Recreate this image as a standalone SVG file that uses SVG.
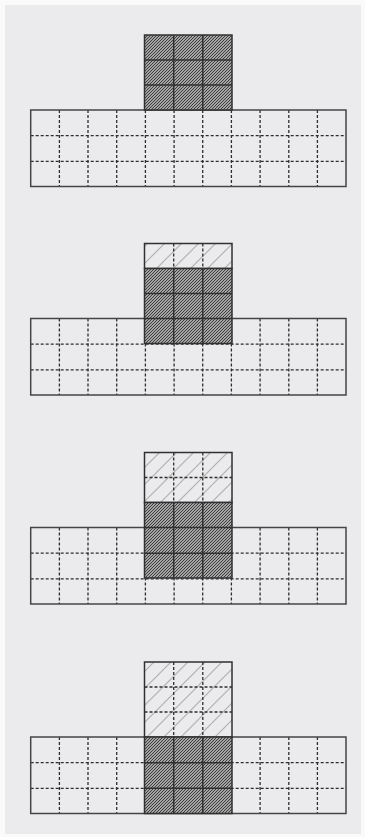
<svg xmlns="http://www.w3.org/2000/svg" width="365" height="837" viewBox="0 0 365 837">
<style>
.bg{fill:#ebebed}
.border{fill:none;stroke:#454545;stroke-width:1.5}
.dash{fill:none;stroke:#2e2e2e;stroke-width:1.3;stroke-dasharray:3 2}
.kline{fill:none;stroke:#303030;stroke-width:1.5}
.dark{fill:url(#darkHatch)}
.light{fill:url(#lightHatch)}
</style>
<defs>
<pattern id="darkHatch" patternUnits="userSpaceOnUse" width="3" height="3">
<rect width="3" height="3" fill="#a4a4a4"/>
<path d="M-1,1 L1,-1 M0,3 L3,0 M2,4 L4,2" stroke="#383838" stroke-width="0.95"/>
</pattern>
<pattern id="lightHatch" patternUnits="userSpaceOnUse" width="17" height="17">
<rect width="17" height="17" fill="#ebebed"/>
<path d="M-1,1 L1,-1 M0,17 L17,0 M16,18 L18,16" stroke="#b0b0b0" stroke-width="1.2"/>
</pattern>
<g id="gridLines">
<path class="dash" d="M59.4,0V76.5M88,0V76.5M116.7,0V76.5M145.4,0V76.5M174.1,0V76.5M202.7,0V76.5M231.4,0V76.5M260.1,0V76.5M288.8,0V76.5M317.4,0V76.5"/>
<path class="dash" d="M30.7,25.7H346M30.7,51.4H346"/>
<rect class="border" x="30.7" y="0" width="315.3" height="76.5"/>
</g>
</defs>
<rect x="0" y="0" width="365" height="837" fill="#fafafa"/>
<rect class="bg" x="5" y="5" width="356" height="829"/>

<g id="panel1">
<use href="#gridLines" y="110"/>
<g id="kernel1">
<rect class="dark" x="144.5" y="35" width="87.5" height="75"/>
<path class="kline" d="M173.7,35V110M202.8,35V110M144.5,60H232M144.5,85H232"/>
<rect class="kline" x="144.5" y="35" width="87.5" height="75"/>
</g>
</g>

<g id="panel2">
<use href="#gridLines" y="318.5"/>
<g id="trail2">
<rect class="light" x="144.5" y="243.5" width="87.5" height="25"/>
<path class="dash" d="M173.7,243.5V268.5M202.8,243.5V268.5"/>
<rect class="kline" x="144.5" y="243.5" width="87.5" height="25"/>
</g>
<g id="kernel2">
<rect class="dark" x="144.5" y="268.5" width="87.5" height="75"/>
<path class="kline" d="M173.7,268.5V343.5M202.8,268.5V343.5M144.5,293.5H232M144.5,318.5H232"/>
<rect class="kline" x="144.5" y="268.5" width="87.5" height="75"/>
</g>
</g>

<g id="panel3">
<use href="#gridLines" y="527.5"/>
<g id="trail3">
<rect class="light" x="144.5" y="452.5" width="87.5" height="50"/>
<path class="dash" d="M173.7,452.5V502.5M202.8,452.5V502.5M144.5,477.5H232"/>
<rect class="kline" x="144.5" y="452.5" width="87.5" height="50"/>
</g>
<g id="kernel3">
<rect class="dark" x="144.5" y="502.5" width="87.5" height="75.5"/>
<path class="kline" d="M173.7,502.5V578M202.8,502.5V578M144.5,527.5H232M144.5,553.2H232"/>
<rect class="kline" x="144.5" y="502.5" width="87.5" height="75.5"/>
</g>
</g>

<g id="panel4">
<use href="#gridLines" y="737"/>
<g id="trail4">
<rect class="light" x="144.5" y="662" width="87.5" height="75"/>
<path class="dash" d="M173.7,662V737M202.8,662V737M144.5,687H232M144.5,712H232"/>
<rect class="kline" x="144.5" y="662" width="87.5" height="75"/>
</g>
<g id="kernel4">
<rect class="dark" x="144.5" y="737" width="87.5" height="76.5"/>
<path class="kline" d="M173.7,737V813.5M202.8,737V813.5M144.5,762.7H232M144.5,788.3H232"/>
<rect class="kline" x="144.5" y="737" width="87.5" height="76.5"/>
</g>
</g>
</svg>
